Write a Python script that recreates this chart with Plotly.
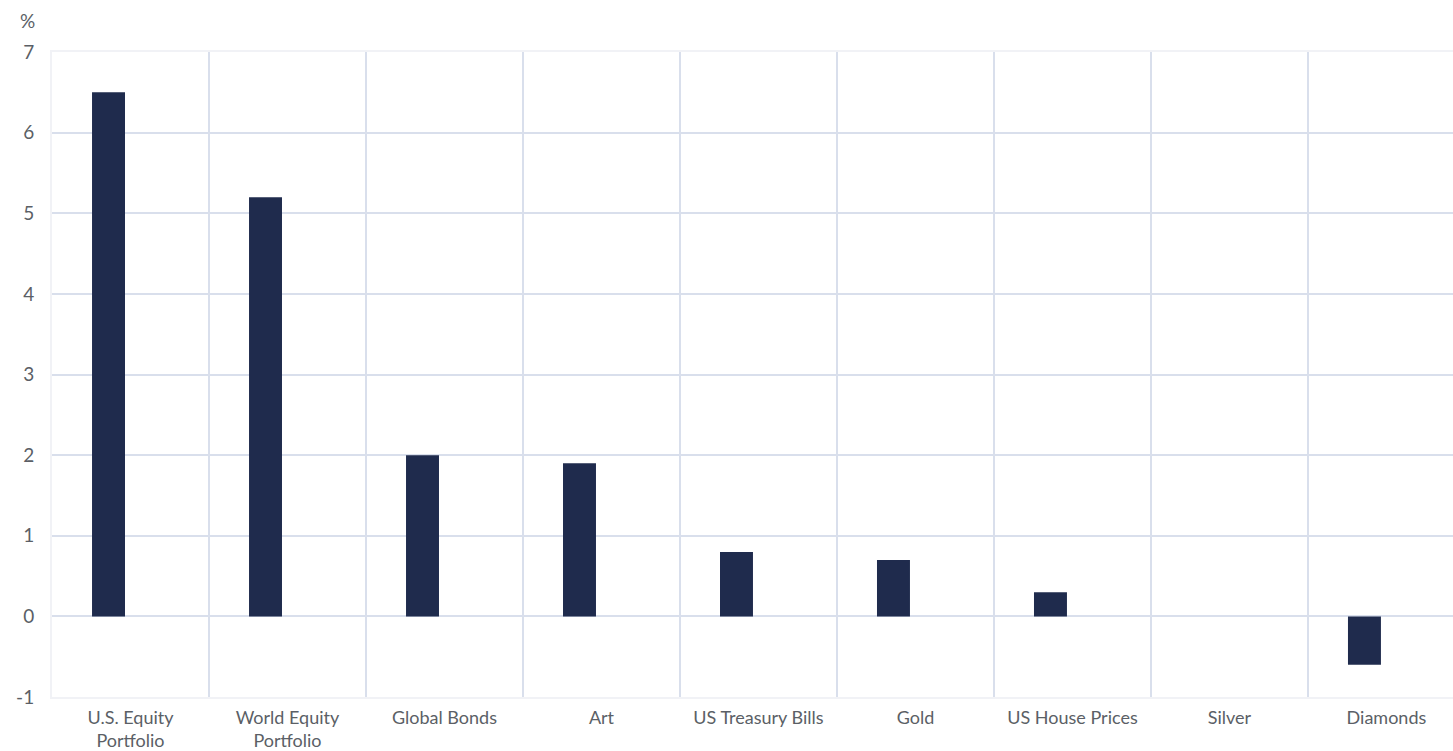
import plotly.graph_objects as go

categories = ["U.S. Equity<br>Portfolio", "World Equity<br>Portfolio", "Global Bonds", "Art",
              "US Treasury Bills", "Gold", "US House Prices", "Silver", "Diamonds"]
returns_pct = [6.5, 5.2, 2.0, 1.9, 0.8, 0.7, 0.3, 0.0, -0.6]
y_ticks = [-1, 0, 1, 2, 3, 4, 5, 6, 7]
y_tick_text = ["-1", "0", "1", "2", "3", "4", "5", "6", "7"]

grid = "#d9dfec"
text_col = "#5b5f66"
font_family = "Lato, 'Open Sans', sans-serif"

fig = go.Figure()
fig.add_trace(go.Bar(
    x=categories, y=returns_pct,
    width=0.21, offset=-0.245,
    marker=dict(color="#1f2b4d", line=dict(width=0)),
    hoverinfo="x+y",
))

fig.update_layout(
    width=1453, height=751,
    margin=dict(l=52, r=0, t=52, b=54),
    paper_bgcolor="white", plot_bgcolor="white",
    showlegend=False,
    font=dict(family=font_family, color=text_col, size=16),
    xaxis=dict(
        type="category", tickson="boundaries", showgrid=True, gridcolor=grid, gridwidth=2,
        ticks="", showline=True, linecolor="#f1f2f6", linewidth=2, mirror=True,
        tickfont=dict(size=18, color=text_col), range=[-0.5, 8.424],
        ticklabelstandoff=3, automargin=False,
    ),
    yaxis=dict(
        range=[-1, 7], tickvals=y_ticks, ticktext=y_tick_text,
        showgrid=True, gridcolor=grid, gridwidth=2,
        zeroline=True, zerolinecolor=grid, zerolinewidth=2,
        showline=True, linecolor="#f1f2f6", linewidth=2, mirror=True,
        tickfont=dict(size=19, color=text_col), ticks="outside", ticklen=12, tickcolor="white",
        automargin=False,
    ),
    annotations=[dict(text="%", xref="paper", yref="paper", x=0, y=1, xshift=-25, yshift=32,
                      xanchor="center", yanchor="middle", showarrow=False,
                      font=dict(size=19, color=text_col))],
)

fig.write_html("out.html")
